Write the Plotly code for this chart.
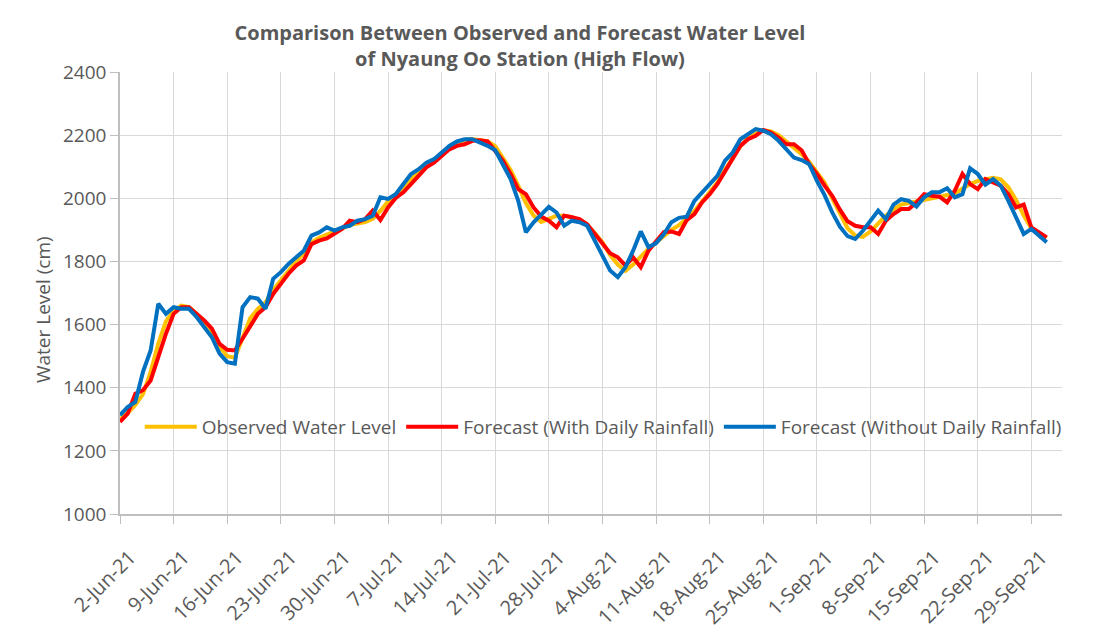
import pandas as pd
import plotly.graph_objects as go

# Dates: 2-Jun-2021 to 1-Oct-2021 (daily)
dates = pd.date_range("2021-06-02", "2021-10-01", freq="D")

observed = [
    1300, 1320, 1345, 1380, 1450, 1540, 1610, 1645, 1660, 1655,
    1635, 1605, 1570, 1530, 1500, 1495, 1560, 1620, 1650, 1670,
    1710, 1740, 1775, 1800, 1825, 1860, 1875, 1885, 1895,
    1905, 1915, 1920, 1925, 1935, 1960, 1990, 2010, 2035, 2060,
    2085, 2105, 2120, 2140, 2160, 2175, 2185, 2188, 2185, 2180,
    2165, 2130, 2090, 2040, 1985, 1945, 1925, 1935, 1945, 1945, 1940,
    1930, 1915, 1890, 1860, 1820, 1790, 1770, 1790, 1815, 1840,
    1860, 1880, 1900, 1915, 1935, 1960, 1990, 2020, 2050, 2090,
    2130, 2165, 2190, 2205, 2215, 2212, 2200, 2180, 2160, 2140, 2115,
    2085, 2050, 2000, 1950, 1905, 1882, 1878, 1895, 1920, 1945,
    1965, 1980, 1985, 1990, 1995, 2000, 2005, 2010, 2015, 2030,
    2045, 2055, 2060, 2065, 2060, 2035, 1995, 1945, 1905, 1890,
    1875,
]

forecast_with_rain = [
    1292, 1318, 1381, 1392, 1423, 1497, 1571, 1634, 1655, 1655,
    1634, 1613, 1587, 1539, 1520, 1518, 1555, 1597, 1634, 1655,
    1697, 1729, 1761, 1787, 1803, 1855, 1866, 1873, 1889,
    1903, 1929, 1924, 1934, 1961, 1931, 1971, 2001, 2019, 2045,
    2071, 2098, 2113, 2134, 2155, 2166, 2171, 2182, 2184, 2180,
    2150, 2119, 2077, 2029, 2013, 1971, 1942, 1929, 1908, 1945, 1940,
    1934, 1918, 1887, 1855, 1826, 1813, 1787, 1813, 1782, 1834,
    1865, 1893, 1895, 1887, 1931, 1950, 1987, 2013, 2045, 2087,
    2129, 2166, 2187, 2198, 2216, 2208, 2192, 2171, 2171, 2152, 2108,
    2077, 2040, 2008, 1964, 1927, 1913, 1908, 1908, 1887, 1929,
    1950, 1966, 1966, 1987, 2013, 2008, 2005, 1987, 2024, 2077,
    2045, 2029, 2061, 2050, 2040, 2013, 1971, 1980, 1908, 1892,
    1876,
]

forecast_without_rain = [
    1313, 1339, 1355, 1450, 1518, 1666, 1634, 1655, 1650, 1650,
    1624, 1592, 1560, 1508, 1481, 1476, 1655, 1687, 1682, 1650,
    1745, 1766, 1792, 1813, 1834, 1882, 1892, 1908, 1898,
    1908, 1913, 1929, 1934, 1945, 2003, 1998, 2013, 2045, 2077,
    2092, 2113, 2124, 2145, 2166, 2180, 2187, 2187, 2177, 2166,
    2152, 2108, 2061, 1992, 1892, 1924, 1950, 1973, 1955, 1913, 1929,
    1924, 1913, 1866, 1813, 1771, 1750, 1782, 1834, 1895, 1845,
    1858, 1886, 1924, 1938, 1942, 1992, 2019, 2045, 2071, 2119,
    2145, 2187, 2203, 2219, 2214, 2203, 2182, 2155, 2129, 2121, 2108,
    2055, 2010, 1955, 1910, 1880, 1871, 1897, 1929, 1961, 1934,
    1980, 1997, 1992, 1974, 2003, 2019, 2019, 2032, 2003, 2013,
    2095, 2077, 2043, 2061, 2040, 1992, 1940, 1887, 1903, 1882,
    1861,
]

series_names = [
    "Observed Water Level",
    "Forecast (With Daily Rainfall)",
    "Forecast (Without Daily Rainfall)",
]
series_colors = ["#FFC000", "#FF0000", "#0070C0"]

TEXT = "#595959"
GRID = "#d9d9d9"
AXIS = "#bfbfbf"
FONT = "Open Sans"

fig = go.Figure()
for name, vals, col in zip(series_names,
                           [observed, forecast_with_rain, forecast_without_rain],
                           series_colors):
    fig.add_trace(go.Scatter(x=dates, y=vals, mode="lines", name=name,
                             line=dict(color=col, width=4)))

fig.update_layout(
    width=1096, height=636,
    margin=dict(l=120, r=34, t=72, b=122, autoexpand=False),
    paper_bgcolor="white", plot_bgcolor="white",
    font=dict(family=FONT, color=TEXT),
    title=dict(
        text="<b>Comparison Between Observed and Forecast Water Level<br>of Nyaung Oo Station (High Flow)</b>",
        x=520 / 1096, xref="container", xanchor="center",
        y=1 - 40 / 636, yref="container", yanchor="middle",
        font=dict(family=FONT, size=20, color=TEXT),
    ),
    legend=dict(
        orientation="h", x=0.021, xanchor="left", y=0.197, yanchor="middle",
        bgcolor="rgba(0,0,0,0)", font=dict(family=FONT, size=19, color=TEXT),
        itemwidth=52,
    ),
    showlegend=True,
    annotations=[dict(
        text="Water Level (cm)", textangle=-90,
        xref="paper", yref="paper", x=(43 - 120) / 942, y=(514 - 310) / 442,
        xanchor="center", yanchor="middle", showarrow=False,
        font=dict(family=FONT, size=19, color=TEXT),
    )],
)

fig.update_xaxes(
    type="date",
    range=["2021-06-02", "2021-10-03"],
    tick0="2021-06-02", dtick=7 * 24 * 3600 * 1000,
    tickformat="%-d-%b-%y", tickangle=-45,
    tickfont=dict(family=FONT, size=20, color=TEXT),
    ticklabelshift=10, ticklabelstandoff=14,
    showgrid=True, gridcolor=GRID, gridwidth=1.3,
    showline=True, linecolor=AXIS, linewidth=1.5,
    ticks="outside", ticklen=8, tickcolor=AXIS, tickwidth=1.3,
    zeroline=False,
)
fig.update_yaxes(
    range=[1000, 2400], dtick=200,
    tickfont=dict(family=FONT, size=19, color=TEXT),
    showgrid=True, gridcolor=GRID, gridwidth=1.3,
    showline=True, linecolor=AXIS, linewidth=1.5,
    ticks="outside", ticklen=8, tickcolor=AXIS, tickwidth=1.3,
    zeroline=False,
)

fig.write_html("out.html", config={"displayModeBar": False},
               post_script="document.body.style.margin='0px';")
